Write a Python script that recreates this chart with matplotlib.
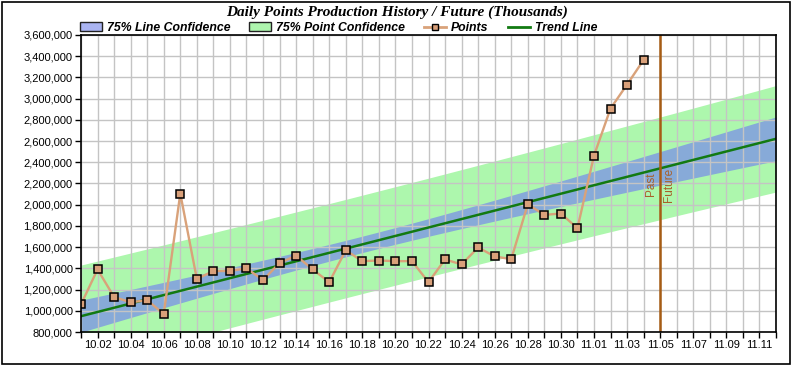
import numpy as np
import matplotlib.pyplot as plt
from matplotlib.patches import Patch, Rectangle
from matplotlib.lines import Line2D

# day labels for the x axis (10.01 .. 11.12)
days = [f"10.{d:02d}" for d in range(1, 32)] + [f"11.{d:02d}" for d in range(1, 13)]

# daily points, 10.01 .. 11.04
points = [1060000, 1390000, 1130000, 1080000, 1100000, 970000, 2105000, 1300000,
          1375000, 1375000, 1400000, 1290000, 1450000, 1520000, 1390000, 1270000,
          1570000, 1468000, 1474000, 1468000, 1468000, 1270000, 1484000, 1437000,
          1597000, 1512000, 1487000, 2004000, 1904000, 1917000, 1778000, 2462000,
          2907000, 3133000, 3365000]

split_day = "11.05"
t75 = 1.164  # two sided 75%, 33 dof

x = np.arange(len(points))
y = np.array(points, dtype=float)
xs = np.arange(len(days))

# least squares trend and confidence bands
slope, icpt = np.polyfit(x, y, 1)
trend = icpt + slope * xs
resid = y - (icpt + slope * x)
n = len(x)
s = np.sqrt((resid ** 2).sum() / (n - 2))
sxx = ((x - x.mean()) ** 2).sum()
h_line = t75 * s * np.sqrt(1 / n + (xs - x.mean()) ** 2 / sxx)
h_point = t75 * s * np.sqrt(1 + 1 / n + (xs - x.mean()) ** 2 / sxx)

plt.rcParams['font.family'] = ['Liberation Sans', 'DejaVu Sans']

fig = plt.figure(figsize=(7.94, 3.68), dpi=100)
ax = fig.add_axes([81 / 794, 1 - 332 / 368, (776 - 81) / 794, (332 - 35) / 368])

ax.fill_between(xs, trend - h_point, trend + h_point, color='#adf7ad', lw=0, zorder=1)
ax.fill_between(xs, trend - h_line, trend + h_line, color='#87aad8', lw=0, zorder=2)
ax.plot(xs, trend, color='#127a12', lw=1.8, zorder=4)
ax.plot(x, y, color='#d9a27a', lw=1.7, marker='s', ms=5.5, mfc='#d9a07a',
        mec='black', mew=1.1, zorder=5)

sx = days.index(split_day)
ax.axvline(sx, color='#a65c14', lw=1.8, zorder=6)
ax.text(sx - 0.2, 2190000, "Past", rotation=90, ha='right', va='center',
        color='#a8602a', fontsize=8.5)
ax.text(sx + 0.2, 2190000, "Future", rotation=90, ha='left', va='center',
        color='#a8602a', fontsize=8.5)

ax.set_xlim(0, len(days) - 1)
ax.set_ylim(800000, 3600000)
ax.set_xticks(xs)
ax.set_xticklabels([d if (i % 2 == 1 and i < len(days) - 1) else "" for i, d in enumerate(days)], fontsize=8)
ax.set_yticks(np.arange(800000, 3600001, 200000))
ax.yaxis.set_major_formatter(plt.FuncFormatter(lambda v, p: f"{int(v):,}"))
ax.tick_params(labelsize=8, length=4, width=1, color='black', pad=2)
ax.grid(True, color='#c4c4c4', lw=1, zorder=0)
ax.set_axisbelow(False)
for g in ax.get_xgridlines() + ax.get_ygridlines():
    g.set_zorder(3)
for sp in ax.spines.values():
    sp.set_linewidth(1.2)
    sp.set_zorder(7)

fig.text(0.5, 0.967, "Daily Points Production History / Future (Thousands)",
         ha='center', va='center', fontsize=11, fontweight='bold', style='italic',
         family=['Liberation Serif', 'DejaVu Serif'])

handles = [
    Patch(facecolor='#aab4f2', edgecolor='#222222', label='75% Line Confidence'),
    Patch(facecolor='#aef5ae', edgecolor='#222222', label='75% Point Confidence'),
    Line2D([], [], color='#d9a27a', lw=2, marker='s', ms=5, mfc='#d9a07a',
           mec='black', label='Points'),
    Line2D([], [], color='#127a12', lw=2, label='Trend Line'),
]
fig.legend(handles=handles, loc='center left', bbox_to_anchor=(80 / 794, 0.924), ncol=4,
           frameon=False, handlelength=1.8, columnspacing=1.55, handletextpad=0.4,
           borderpad=0, borderaxespad=0,
           prop={'family': ['Liberation Sans Narrow', 'Liberation Sans'],
                 'weight': 'bold', 'style': 'italic', 'size': 8.8})

fig.patches.append(Rectangle((2 / 794, 4 / 368), 788 / 794, 362 / 368,
                             transform=fig.transFigure, fill=False,
                             edgecolor='black', lw=1.2))

fig.savefig('out.png', dpi=100)
plt.close()
